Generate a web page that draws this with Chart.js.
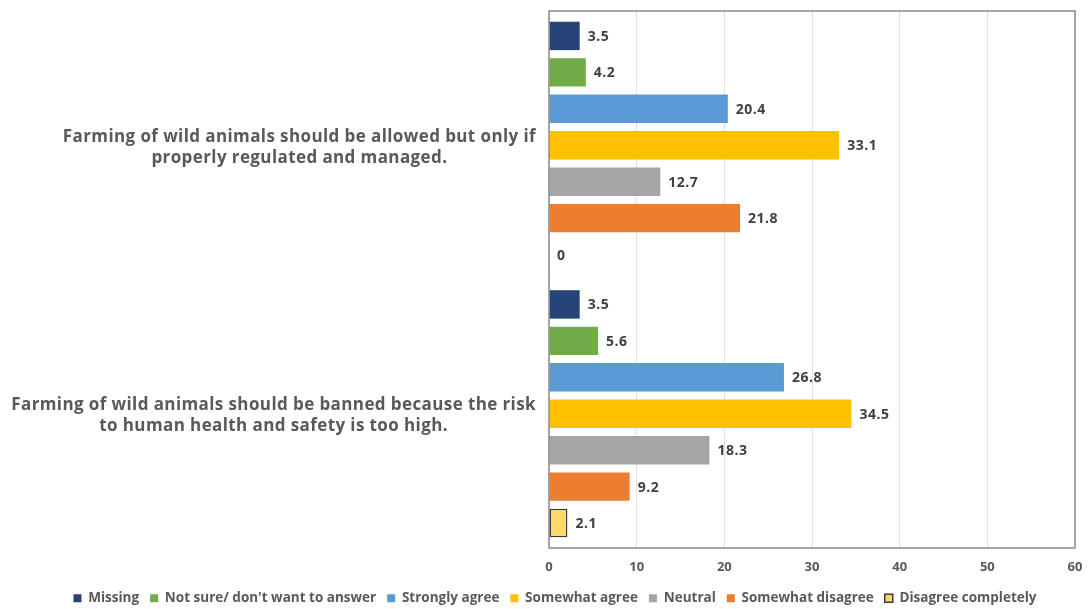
<!DOCTYPE html>
<html>
<head>
<meta charset="utf-8">
<script src="https://cdn.jsdelivr.net/npm/chart.js@4.4.1/dist/chart.umd.min.js"></script>
<style>
	html, body { margin: 0; padding: 0; background: #fff; }
	#wrap { width: 1089px; height: 609px; position: relative; }
</style>
</head>
<body>
<div id="wrap"><canvas id="farming-chart"></canvas></div>
<script>
var statements = [
	['Farming of wild animals should be allowed but only if', 'properly regulated and managed.'],
	['Farming of wild animals should be banned because the risk', 'to human health and safety is too high.']
];

var answers = ['Missing', 'Not sure/ don\'t want to answer', 'Strongly agree', 'Somewhat agree', 'Neutral', 'Somewhat disagree', 'Disagree completely'];

var missing = [3.5, 3.5];
var notSure = [4.2, 5.6];
var stronglyAgree = [20.4, 26.8];
var somewhatAgree = [33.1, 34.5];
var neutral = [12.7, 18.3];
var somewhatDisagree = [21.8, 9.2];
var disagreeCompletely = [0, 2.1];

var xTicks = [0, 10, 20, 30, 40, 50, 60];

var answerColors = ['#264478', '#70AD47', '#5B9BD5', '#FFC000', '#A5A5A5', '#ED7D31', '#FFD966'];
var answerValues = [missing, notSure, stronglyAgree, somewhatAgree, neutral, somewhatDisagree, disagreeCompletely];

var textGrey = '#595959';
var fontName = '"Open Sans", Lato, sans-serif';

var datasets = answers.map(function (name, i) {
	var last = i == answers.length - 1;
	return {
		label: name,
		data: answerValues[i],
		backgroundColor: answerColors[i],
		borderColor: last ? '#3a3a3a' : answerColors[i],
		borderWidth: last ? 1.5 : 0,
		borderSkipped: false,
		categoryPercentage: 0.95,
		barPercentage: 0.78
	};
});

// frame, statement labels and value labels
var decorations = {
	id: 'decorations',
	afterLayout: function (chart) {
		// legend sits a little right of the page centre
		chart.legend.left += 13;
		chart.legend.right += 13;
	},
	afterDatasetsDraw: function (chart) {
		var ctx = chart.ctx;
		var area = chart.chartArea;
		var yScale = chart.scales.y;

		ctx.save();
		ctx.strokeStyle = '#8a8a8a';
		ctx.lineWidth = 1.5;
		ctx.strokeRect(area.left, area.top, area.right - area.left, area.bottom - area.top);

		// value at the end of every bar
		ctx.font = 'bold 14px ' + fontName;
		ctx.letterSpacing = '0.5px';
		ctx.fillStyle = '#404040';
		ctx.textAlign = 'left';
		ctx.textBaseline = 'middle';
		chart.data.datasets.forEach(function (ds, i) {
			chart.getDatasetMeta(i).data.forEach(function (bar, j) {
				ctx.fillText(String(ds.data[j]), bar.x + 8, bar.y + 1);
			});
		});

		// statements, each block centred on its own width and right-aligned to the axis
		ctx.font = 'bold 17px ' + fontName;
		ctx.letterSpacing = '0.4px';
		ctx.fillStyle = textGrey;
		ctx.textAlign = 'center';
		var rightEdge = area.left - 13;
		statements.forEach(function (lines, k) {
			var widest = Math.max.apply(null, lines.map(function (l) { return ctx.measureText(l).width; }));
			var cx = rightEdge - widest / 2;
			var cy = yScale.getPixelForValue(k) + 2;
			lines.forEach(function (l, n) {
				ctx.fillText(l, cx, cy + (n - (lines.length - 1) / 2) * 21);
			});
		});
		ctx.restore();
	}
};

new Chart('farming-chart', {
	type: 'bar',
	data: {
		labels: statements,
		datasets: datasets
	},
	options: {
		indexAxis: 'y',
		responsive: true,
		maintainAspectRatio: false,
		animation: false,
		layout: {
			padding: { left: 9, right: 14, top: 11, bottom: 0 }
		},
		scales: {
			x: {
				min: 0,
				max: 60,
				afterBuildTicks: function (scale) {
					scale.ticks = xTicks.map(function (v) { return { value: v }; });
				},
				afterFit: function (scale) {
					scale.height = 32.5;
					scale.paddingLeft = 0;
					scale.paddingRight = 0;
				},
				grid: { color: '#e2e2e2', lineWidth: 1, drawTicks: false },
				border: { display: false },
				ticks: {
					padding: 11,
					color: textGrey,
					font: { family: fontName, size: 13, weight: 'bold' }
				}
			},
			y: {
				grid: { display: false },
				border: { display: false },
				ticks: { display: false },
				afterFit: function (scale) {
					scale.width = 540;
				}
			}
		},
		plugins: {
			legend: {
				position: 'bottom',
				maxHeight: 28.5,
				labels: {
					boxWidth: 8,
					boxHeight: 8,
					padding: 11,
					color: textGrey,
					font: { family: fontName, size: 13.5, weight: 'bold' }
				}
			},
			tooltip: { enabled: false }
		}
	},
	plugins: [decorations]
});
</script>
</body>
</html>
